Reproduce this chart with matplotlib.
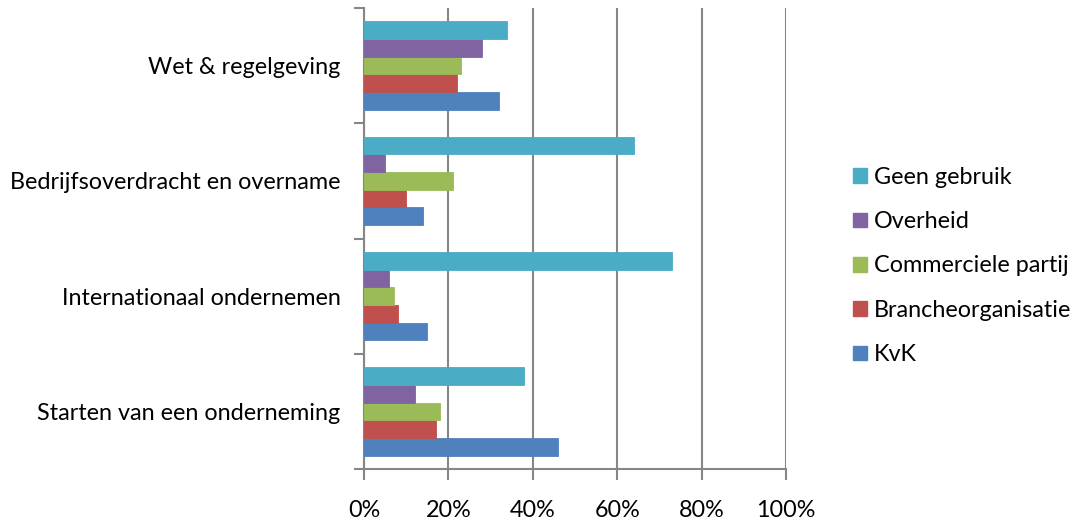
import matplotlib
matplotlib.use("Agg")
import matplotlib.pyplot as plt
import numpy as np
from matplotlib.patches import Patch
from matplotlib.ticker import FuncFormatter

categories = ["Starten van een onderneming", "Internationaal ondernemen",
              "Bedrijfsoverdracht en overname", "Wet & regelgeving"]
series_names = ["KvK", "Brancheorganisatie", "Commerciele partij", "Overheid", "Geen gebruik"]
kvk = [46, 15, 14, 32]
branche = [17, 8, 10, 22]
commercieel = [18, 7, 21, 23]
overheid = [12, 6, 5, 28]
geen = [38, 73, 64, 34]
xticks = [0, 20, 40, 60, 80, 100]

values = [kvk, branche, commercieel, overheid, geen]
colors = ["#4F81BD", "#C0504D", "#9BBB59", "#8064A2", "#4BACC6"]

plt.rcParams['font.family'] = ['Lato', 'DejaVu Sans']
fs = 16.8

fig = plt.figure(figsize=(10.78, 5.2), dpi=100)
ax = fig.add_axes([364/1078, 51/520, 422/1078, 461/520])

n = len(series_names)
group = 1/1.3
h = group / n
y = np.arange(len(categories))
for i, (vals, c) in enumerate(zip(values, colors)):
    off = (i - (n - 1) / 2) * h
    ax.barh(y + off, vals, height=h, color=c, edgecolor=c, linewidth=0.6, zorder=3)

gc = "#868686"
ax.set_xlim(0, 100)
ax.set_ylim(-0.5, len(categories) - 0.5)
ax.set_xticks(xticks)
ax.xaxis.set_major_formatter(FuncFormatter(lambda v, p: f"{int(v)}%"))
ax.grid(axis='x', color=gc, linewidth=1.5, zorder=0)
ax.set_yticks(np.arange(-0.5, len(categories), 1.0))
ax.set_yticklabels([])
ax.set_yticks(y, minor=True)
ax.set_yticklabels(categories, minor=True)
ax.tick_params(axis='y', which='minor', length=0, pad=17, labelsize=fs)
ax.tick_params(axis='y', which='major', length=7, width=1.5, color=gc)
ax.tick_params(axis='x', length=8, width=1.5, color=gc, pad=14, labelsize=fs)
for s in ['top', 'right']:
    ax.spines[s].set_visible(False)
for s in ['left', 'bottom']:
    ax.spines[s].set_color(gc)
    ax.spines[s].set_linewidth(1.5)

handles = [Patch(facecolor=c, edgecolor=c) for c in colors[::-1]]
fig.legend(handles, series_names[::-1], loc='center left',
           bbox_to_anchor=(853/1078, 1 - 266/520), frameon=False, fontsize=fs,
           handlelength=0.6, handleheight=0.6, handletextpad=0.3,
           labelspacing=1.0, borderaxespad=0, borderpad=0)

fig.savefig("out.png", dpi=100)
